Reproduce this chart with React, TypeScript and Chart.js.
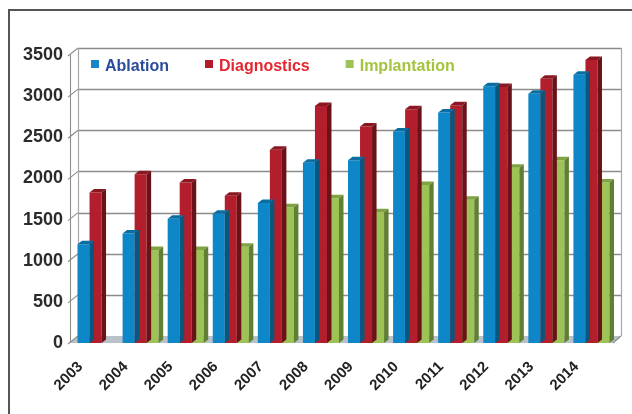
import React, { useEffect, useRef } from "react";
import { Chart, registerables } from "chart.js";

Chart.register(...registerables);

const years = ["2003", "2004", "2005", "2006", "2007", "2008", "2009", "2010", "2011", "2012", "2013", "2014"];
const ablation = [1200, 1330, 1510, 1570, 1700, 2190, 2220, 2570, 2800, 3120, 3030, 3260];
const diagnostics = [1830, 2050, 1950, 1790, 2350, 2880, 2630, 2840, 2890, 3110, 3210, 3440];
const implantation = [null, 1130, 1130, 1170, 1650, 1760, 1590, 1920, 1740, 2130, 2220, 1950];
const yTicks = [0, 500, 1000, 1500, 2000, 2500, 3000, 3500];
const seriesNames = ["Ablation", "Diagnostics", "Implantation"];

const FRONT = ["#0d87c7", "#b31e2c", "#9dc356"];
const TOP = ["#0a6ea3", "#8a1822", "#7fa242"];
const SIDE = ["#07577f", "#6a1218", "#5f7f32"];
const LEGEND_MARK = ["#1787c8", "#b11c2a", "#9dc356"];
const LEGEND_TEXT = ["#2a4a9a", "#e4262e", "#a5c43d"];

const DX = 8, DY = 7; // wall depth
const BDX = 4.5, BDY = 3.5; // bar depth
const FONT = '"Liberation Sans", Arial, Helvetica, sans-serif';

const decor = {
  id: "decor",
  beforeDraw(chart: any) {
    const { ctx, chartArea: a, scales } = chart;
    const y = scales.y;
    const FL = a.left - 3;
    const FR = a.right - 1;
    const BL = FL + DX;
    const BR = FR + DX;
    const y0 = y.getPixelForValue(0);
    const yTop = y.getPixelForValue(yTicks[yTicks.length - 1]);
    ctx.save();
    ctx.fillStyle = "#ffffff";
    ctx.fillRect(0, 0, chart.width, chart.height);
    // outer frame
    ctx.strokeStyle = "#555555";
    ctx.lineWidth = 2;
    ctx.strokeRect(9, 10, 800, 600);
    // floor
    ctx.fillStyle = "#b9c0ca";
    ctx.beginPath();
    ctx.moveTo(FL, y0);
    ctx.lineTo(FR, y0);
    ctx.lineTo(BR, y0 - DY);
    ctx.lineTo(BL, y0 - DY);
    ctx.closePath();
    ctx.fill();
    // back wall gridlines
    ctx.strokeStyle = "#8c8c8c";
    ctx.lineWidth = 1.3;
    yTicks.forEach((v) => {
      if (v === 0) return;
      const py = Math.round(y.getPixelForValue(v) - DY) + 0.5;
      ctx.beginPath();
      ctx.moveTo(BL, py);
      ctx.lineTo(BR, py);
      ctx.stroke();
    });
    // back wall edges
    ctx.strokeStyle = "#a8a8a8";
    ctx.lineWidth = 1.2;
    ctx.beginPath();
    ctx.moveTo(BL + 0.5, yTop - DY);
    ctx.lineTo(BL + 0.5, y0 - DY);
    ctx.moveTo(BR + 0.5, yTop - DY);
    ctx.lineTo(BR + 0.5, y0 - DY);
    ctx.stroke();
    // left side wall
    ctx.strokeStyle = "#8c8c8c";
    ctx.lineWidth = 1.1;
    ctx.beginPath();
    ctx.moveTo(FL + 0.5, yTop);
    ctx.lineTo(FL + 0.5, y0);
    yTicks.forEach((v) => {
      const py = y.getPixelForValue(v);
      ctx.moveTo(FL - 2, py + 1);
      ctx.lineTo(BL, py - DY);
    });
    ctx.moveTo(FR, y0);
    ctx.lineTo(BR, y0 - DY);
    ctx.stroke();
    ctx.restore();
  },
  afterDatasetDraw(chart: any, args: any) {
    const i = args.index;
    const meta = chart.getDatasetMeta(i);
    const data = chart.data.datasets[i].data;
    const { ctx } = chart;
    ctx.save();
    meta.data.forEach((el: any, j: number) => {
      if (data[j] === null || data[j] === undefined) return;
      const p = el.getProps(["x", "y", "base", "width"], true);
      const x0 = p.x - p.width / 2;
      const x1 = p.x + p.width / 2;
      ctx.fillStyle = TOP[i];
      ctx.beginPath();
      ctx.moveTo(x0, p.y);
      ctx.lineTo(x1, p.y);
      ctx.lineTo(x1 + BDX, p.y - BDY);
      ctx.lineTo(x0 + BDX, p.y - BDY);
      ctx.closePath();
      ctx.fill();
      ctx.fillStyle = SIDE[i];
      ctx.beginPath();
      ctx.moveTo(x1, p.y);
      ctx.lineTo(x1 + BDX, p.y - BDY);
      ctx.lineTo(x1 + BDX, p.base - BDY);
      ctx.lineTo(x1, p.base);
      ctx.closePath();
      ctx.fill();
    });
    ctx.restore();
  },
  afterDraw(chart: any) {
    const { ctx } = chart;
    ctx.save();
    ctx.font = `bold 16px ${FONT}`;
    ctx.textBaseline = "alphabetic";
    ctx.textAlign = "left";
    let x = 91;
    seriesNames.forEach((name, i) => {
      ctx.fillStyle = LEGEND_MARK[i];
      ctx.fillRect(x, 60, 8, 8);
      ctx.fillStyle = LEGEND_TEXT[i];
      ctx.fillText(name, x + 14, 71);
      x += 14 + ctx.measureText(name).width + 36;
    });
    ctx.restore();
  },
};

export default function App() {
  const ref = useRef<HTMLCanvasElement | null>(null);
  useEffect(() => {
    if (!ref.current) return;
    const chart = new Chart(ref.current, {
      type: "bar",
      data: {
        labels: years,
        datasets: [
          { label: seriesNames[0], data: ablation, backgroundColor: FRONT[0] },
          { label: seriesNames[1], data: diagnostics, backgroundColor: FRONT[1] },
          { label: seriesNames[2], data: implantation as any, backgroundColor: FRONT[2] },
        ],
      },
      options: {
        responsive: false,
        animation: false,
        layout: { padding: { top: 55, right: 18, left: 0, bottom: 0 } },
        datasets: { bar: { categoryPercentage: 0.8, barPercentage: 1, borderWidth: 0 } },
        plugins: { legend: { display: false }, tooltip: { enabled: false } },
        scales: {
          x: {
            grid: { display: false, drawTicks: false },
            border: { display: false },
            ticks: {
              minRotation: 45,
              maxRotation: 45,
              padding: 15,
              labelOffset: -15,
              color: "#222222",
              font: { family: FONT, size: 15, weight: "bold" },
            },
            afterFit: (s: any) => {
              s.height = 71;
            },
          },
          y: {
            min: 0,
            max: 3500,
            grid: { display: false, drawTicks: false },
            border: { display: false },
            afterBuildTicks: (s: any) => {
              s.ticks = yTicks.map((v) => ({ value: v }));
            },
            ticks: {
              padding: 10,
              color: "#2b2b2b",
              font: { family: FONT, size: 18, weight: "bold" },
              callback: (v: any) => String(v),
            },
            afterFit: (s: any) => {
              s.width = 73;
            },
          },
        },
      },
      plugins: [decor],
    });
    return () => chart.destroy();
  }, []);
  return (
    <div style={{ position: "fixed", left: 0, top: 0, width: 632, height: 414, background: "#fff" }}>
      <canvas ref={ref} width={632} height={414} style={{ display: "block" }} />
    </div>
  );
}
